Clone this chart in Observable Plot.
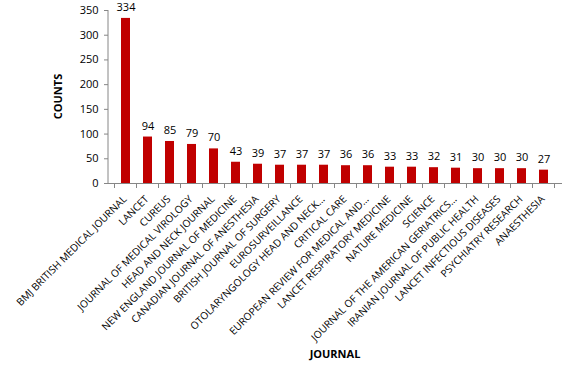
<!DOCTYPE html>
<html><head><meta charset="utf-8">
<script src="https://cdn.jsdelivr.net/npm/d3@7"></script>
<script src="https://cdn.jsdelivr.net/npm/@observablehq/plot@0.6"></script>
<style>
body{margin:0;background:#fff;}
#chart svg{display:block;}
</style>
</head><body><div id="chart"></div>
<script>
const journals = [
  "BMJ BRITISH MEDICAL JOURNAL","LANCET","CUREUS","JOURNAL OF MEDICAL VIROLOGY",
  "HEAD AND NECK JOURNAL","NEW ENGLAND JOURNAL OF MEDICINE","CANADIAN JOURNAL OF ANESTHESIA",
  "BRITISH JOURNAL OF SURGERY","EUROSURVEILLANCE","OTOLARYNGOLOGY HEAD AND NECK…",
  "CRITICAL CARE","EUROPEAN REVIEW FOR MEDICAL AND…","LANCET RESPIRATORY MEDICINE",
  "NATURE MEDICINE","SCIENCE","JOURNAL OF THE AMERICAN GERIATRICS…",
  "IRANIAN JOURNAL OF PUBLIC HEALTH","LANCET INFECTIOUS DISEASES","PSYCHIATRY RESEARCH","ANAESTHESIA"
];
const counts = [334,94,85,79,70,43,39,37,37,37,36,36,33,33,32,31,30,30,30,27];
const yTicks = [0,50,100,150,200,250,300,350];
const yTitle = "COUNTS";
const xTitle = "JOURNAL";

const data = journals.map((j,i)=>({journal:j, count:counts[i]}));
const W = 571, H = 369;
const mL = 108, mR = 9, mT = 10, mB = 186;
const axisColor = "#868686";

const plot = Plot.plot({
  width: W, height: H,
  marginLeft: mL, marginRight: mR, marginTop: mT, marginBottom: mB,
  style: {fontFamily: "'Open Sans', sans-serif", fontSize: "10px", color: "#000", background: "#fff"},
  x: {domain: journals, paddingInner: 0.58, paddingOuter: 0.29, label: null},
  y: {domain: [0, 350], label: null},
  marks: [
    Plot.barY(data, {x: "journal", y: "count", fill: "#C00000"}),
    Plot.text(data, {x: "journal", y: "count", text: d => String(d.count), dy: -11, fontSize: 11, fill: "#000"}),
    Plot.axisY({ticks: yTicks, tickSize: 4, tickPadding: 6, fontSize: 11, label: null, stroke: axisColor}),
    Plot.axisX({tickSize: 0, tickPadding: 14, dx: -1, tickRotate: -45, fontSize: 10.2, label: null}),
    Plot.ruleY([0], {stroke: axisColor})
  ]
});

// y axis line and category-boundary tick marks (Excel style), placed from Plot's own scales
const xs = plot.scale("x");
const svg = d3.select(plot);
const step = xs.step;
const yS = plot.scale("y");
const y0 = yS.apply(0), yTop = yS.apply(350);
svg.append("line").attr("stroke", axisColor)
  .attr("x1", mL).attr("x2", mL).attr("y1", yTop).attr("y2", y0);
const bounds = journals.map(j => xs.apply(j) + xs.bandwidth/2 - step/2);
bounds.push(xs.apply(journals[journals.length-1]) + xs.bandwidth/2 + step/2);
svg.append("g").attr("stroke", axisColor).selectAll("line").data(bounds).join("line")
  .attr("x1", d=>d).attr("x2", d=>d).attr("y1", y0).attr("y2", y0+5);

svg.append("text").text(yTitle)
  .attr("transform", `translate(62,${(mT+y0)/2}) rotate(-90)`)
  .attr("text-anchor","middle").attr("font-weight","bold").attr("font-size",11).attr("fill","#000");
svg.append("text").text(xTitle)
  .attr("x", 335).attr("y", 358)
  .attr("text-anchor","middle").attr("font-weight","bold").attr("font-size",11).attr("fill","#000");

document.getElementById("chart").append(plot);
</script>
</body></html>
